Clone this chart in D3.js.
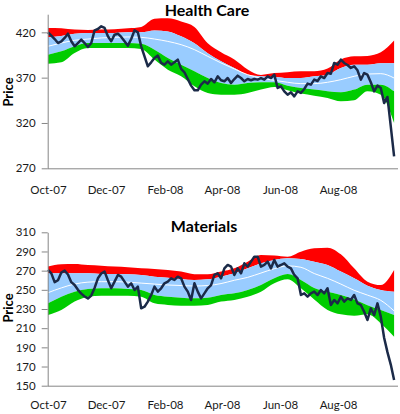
<!DOCTYPE html>
<html><head><meta charset="utf-8">
<script src="https://cdn.jsdelivr.net/npm/d3@7"></script>
<style>
body{margin:0;background:#fff}
text{font-family:Lato,"Open Sans",sans-serif}
</style>
</head><body>
<svg id="c" width="400" height="414"></svg>
<script>
// ---- data ----
const startDate = "2007-10-01";
const endDate = "2008-10-01";
const priceStepHours = 84;   // one price sample every 3.5 days
const bandStepDays = 14;     // one band sample every 14 days
const monthTicks = ["Oct-07","Dec-07","Feb-08","Apr-08","Jun-08","Aug-08"];

const hcTicks = [270,320,370,420];
const hcPrice = [420,416.3,412.6,408.2,410.1,413.8,418.5,410.1,404.6,408.2,
 411.9,408.2,403.8,408.2,422.2,423.7,426.6,424.8,415.6,410.1,
 417.4,418.5,414.9,410.1,405.3,412.6,422.2,420,404.6,393.5,
 382.5,386.9,391.7,394.3,386.2,384.3,388,384.3,386.9,389.9,
 379.6,375.9,368.5,361.2,356,356,362.3,366,363.4,368.5,
 364.9,371.5,367.1,366,369.6,364.1,368.5,372.2,369.6,366,
 368.5,367.1,368.5,367.8,369.6,367.8,371.5,369.6,373.3,358.6,
 360.4,354.9,351.2,353.8,349.4,354.9,353.1,357.5,363.4,362.3,
 367.8,366.3,371.5,369.6,375.1,374.4,386.2,384.3,389.9,386.2,
 384,380.7,382.5,378.1,367.8,375.1,373.3,364.9,354.9,361.2,
 358.6,342,348.7,316.3,283.2];
const hcHi2 = [424.8,424.5,423,422.5,423,423.5,424.5,426,435,435.5,432,426,408,398,390,379,373,375,376,377,377,380,390,393.5,394,398,411];
const hcHi1 = [414.5,416,418.5,419.3,419.3,419.3,420,420,422,421,415.6,408,397,388,380.7,373.3,371.5,370.7,369.6,369.6,371.5,373.3,380.7,384.3,384.3,386,386];
const hcMid = [404.6,408.2,411.2,412.6,413.8,414.5,414.9,414.5,412.6,410,406.4,400.9,393.5,386.2,379.6,373.3,369.6,367,364.9,363.4,363.4,364.9,367.8,371.5,374,374.4,369.6];
const hcLo1 = [395.4,399,404.6,408.2,408.2,408.2,408.2,407.5,400.9,391.7,384.3,377,369.6,364.1,362.3,364.1,364.9,364.9,361.2,358.6,356.8,355,353.8,356.8,362.3,362.3,354.9];
const hcLo2 = [385.4,387,397.2,402.7,402.7,402.7,402.7,401.6,389.9,378.8,371.5,360.4,353.1,351.2,351.2,353.1,356.8,359.7,356,352.4,350.1,347.6,343.9,345,354.9,351.2,320];

const matTicks = [150,170,190,210,230,250,270,290,310];
const matPrice = [270.7,267.2,258,260,268,270,266,258,255,250,
 246,243,241,244,252,262,267,269,260,251.6,
 258.5,265.5,263.7,258.5,253.3,256.8,249.8,253.3,230.7,232.4,
 237.7,244.6,253.3,248.1,251.6,256.8,258.5,262,260.3,263.7,
 262,253.3,248.1,239.4,256.8,248.1,241.1,246.3,251.6,255,
 265.5,267.2,262,272.4,275.9,274.2,265.5,272.4,267.2,277.7,
 274.2,279.4,284.6,284.6,274.2,275.9,279.4,272.4,281.1,274.2,
 275.9,277.7,274.2,272.4,265.5,262,244.6,246.3,242.8,246.3,
 248.1,244.6,249.8,246.3,251.6,234.2,239.4,235.9,242.8,237.7,
 241.1,239.4,244.6,235.9,234.2,227.2,218.5,230.7,223.7,235.9,
 222,200,185,172,156];
const matHi2 = [274.2,276.6,277,275.9,275.2,274.2,273.5,272.4,271.7,270.7,269,266.2,266.2,269,272.4,279.4,286.3,285.7,284.6,289.8,293.3,294,287,272.4,258.5,255,270.7];
const matHi1 = [267.2,267.2,267.2,267.2,266.5,266.5,266.2,265.5,263.7,262.7,261.3,260.3,261,263.7,267.2,272.4,277.7,281.1,282.9,282.2,279.4,275.9,269,262,254.3,249.8,248.1];
const matMid = [247,252,256,258,258.5,258.5,258,257,256,255,254.5,254,254.5,256.5,260,263,267.5,272,275,273.5,267,262,256,249.5,244.5,239,228];
const matLo1 = [235.9,242.8,248.1,250.9,251.6,251.6,250.9,249.8,244.6,242.8,241.8,241.1,241.8,244.6,246.3,249.8,255,262,266.5,260.3,252,248,244.6,240,234,229,223.7];
const matLo2 = [223.7,229,237.7,242.8,243.9,243.9,243.9,242.8,235.9,234.2,233.5,233.5,234.2,237.7,239.4,242.8,248.1,256.8,261,251.6,240,229,224.4,223,224.4,215,201];

// ---- drawing ----
const svg = d3.select("#c");
const t0 = d3.timeParse("%Y-%m-%d")(startDate);
const t1 = d3.timeParse("%Y-%m-%d")(endDate);
const x = d3.scaleTime().domain([t0, t1]).range([48, 396]);
const tickDates = monthTicks.map(d3.timeParse("%b-%y"));

const charts = [
  {title:"Health Care", price:hcPrice, hi2:hcHi2, hi1:hcHi1, mid:hcMid, lo1:hcLo1, lo2:hcLo2,
   ticks:hcTicks, ydom:[270,440], yr:[168.3,14.2], titleX:207, titleY:15.5, labY:194, priceY:92},
  {title:"Materials", price:matPrice, hi2:matHi2, hi1:matHi1, mid:matMid, lo1:matLo1, lo2:matLo2,
   ticks:matTicks, ydom:[150,310], yr:[385.7,232.3], titleX:204, titleY:232, labY:409.5, priceY:308}
];

charts.forEach(c => {
  const g = svg.append("g");
  const y = d3.scaleLinear().domain(c.ydom).range(c.yr);
  const pDate = i => d3.timeHour.offset(t0, i*priceStepHours);
  const bDate = i => d3.timeDay.offset(t0, i*bandStepDays);
  const bands = c.mid.map((m,i)=>({d:bDate(i), hi2:c.hi2[i], hi1:c.hi1[i], mid:m, lo1:c.lo1[i], lo2:c.lo2[i]}));
  const curve = d3.curveMonotoneX;
  const area = (a,b) => d3.area().x(d=>x(d.d)).y0(d=>y(d[b])).y1(d=>y(d[a])).curve(curve);
  g.append("path").datum(bands).attr("d", area("hi2","hi1")).attr("fill","#ff0000");
  g.append("path").datum(bands).attr("d", area("hi1","lo1")).attr("fill","#99ccff");
  g.append("path").datum(bands).attr("d", area("lo1","lo2")).attr("fill","#00cc00");
  g.append("path").datum(bands).attr("d", d3.line().x(d=>x(d.d)).y(d=>y(d.mid)).curve(curve))
    .attr("fill","none").attr("stroke","#ffffff").attr("stroke-width",1);
  g.append("path").datum(c.price).attr("d", d3.line().x((d,i)=>x(pDate(i))).y(d=>y(d)))
    .attr("fill","none").attr("stroke","#1b2a48").attr("stroke-width",2.5).attr("stroke-linejoin","round");

  // y axis
  const ya = g.append("g").attr("transform","translate(47.7,0)")
    .call(d3.axisLeft(y).tickValues(c.ticks).tickSize(6).tickPadding(6).tickSizeOuter(0));
  ya.select(".domain").attr("stroke","#868686");
  ya.selectAll(".tick line").attr("stroke","#868686");
  ya.selectAll("text").attr("font-size","11.5px").attr("fill","#1a1a1a");
  // x axis
  const xa = g.append("g").attr("transform",`translate(0,${c.yr[0]})`)
    .call(d3.axisBottom(x).tickValues(tickDates).tickFormat(d3.timeFormat("%b-%y")).tickSize(0).tickPadding(0).tickSizeOuter(0));
  xa.select(".domain").attr("stroke","#868686").attr("d",`M47.7,0.5H398`);
  xa.selectAll("text").attr("font-size","11.5px").attr("fill","#1a1a1a").attr("dy",null).attr("y", c.labY - c.yr[0]);

  g.append("text").attr("x",c.titleX).attr("y",c.titleY).attr("text-anchor","middle")
    .attr("font-weight","bold").attr("font-size","16px").attr("fill","#000").text(c.title);
  g.append("text").attr("transform",`translate(12.5,${c.priceY}) rotate(-90)`).attr("text-anchor","middle")
    .attr("font-weight","bold").attr("font-size","13px").attr("fill","#000").text("Price");
});
</script>
</body></html>
